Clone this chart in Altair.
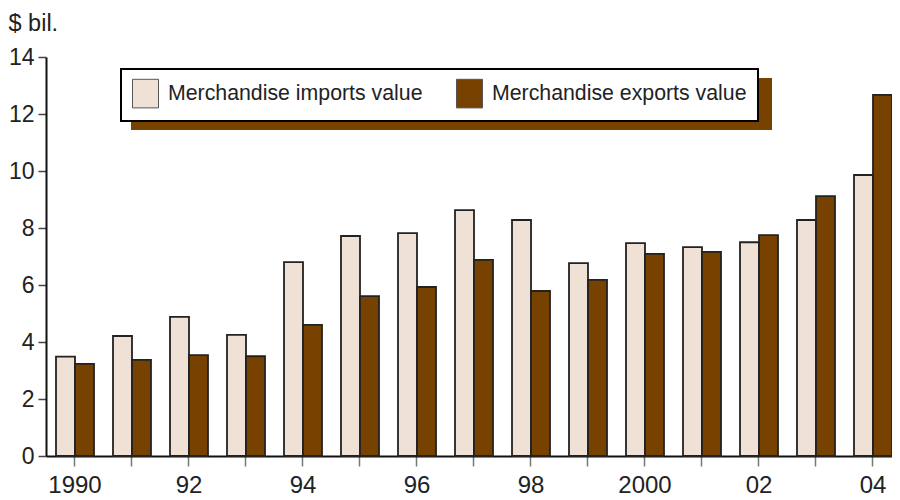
import altair as alt
import pandas as pd

years = list(range(1990, 2005))
imports = [3.49, 4.21, 4.88, 4.25, 6.80, 7.72, 7.82, 8.63, 8.28, 6.77, 7.47, 7.33, 7.50, 8.28, 9.86]
exports = [3.23, 3.37, 3.54, 3.50, 4.60, 5.61, 5.93, 6.88, 5.79, 6.18, 7.09, 7.16, 7.75, 9.12, 12.67]
series = ["Merchandise imports value", "Merchandise exports value"]
colors = ["#EFE1D5", "#774200"]
y_ticks = [0, 2, 4, 6, 8, 10, 12, 14]

rows = []
for i, yr in enumerate(years):
    rows.append({"year": yr, "series": series[0], "value": imports[i]})
    rows.append({"year": yr, "series": series[1], "value": exports[i]})
df = pd.DataFrame(rows)

FONT = "Liberation Sans"

shadow = alt.Chart(pd.DataFrame({"k": [0]})).mark_rect(color="#774200").encode(
    x=alt.value(85), x2=alt.value(726), y=alt.value(21), y2=alt.value(73)
)

label_expr = ("datum.value % 2 == 1 ? '' : ((datum.value == 1990 || datum.value == 2000) ? "
              "toString(datum.value) : substring(toString(datum.value), 2))")

bars = alt.Chart(df).mark_bar(stroke="#222222", strokeWidth=1.8).encode(
    x=alt.X("year:O",
            scale=alt.Scale(paddingInner=1/3, paddingOuter=0.0877, align=1),
            axis=alt.Axis(title=None, labelExpr=label_expr, labelAngle=0,
                          labelFontSize=24, labelFont=FONT, labelColor="#222",
                          labelPadding=7, labelOverlap=False,
                          tickSize=10, tickColor="#777777", tickWidth=1.5,
                          domainColor="#111111", domainWidth=2)),
    xOffset=alt.XOffset("series:N", sort=series),
    y=alt.Y("value:Q",
            scale=alt.Scale(domain=[0, 14], nice=False),
            axis=alt.Axis(values=y_ticks, title="$ bil.", titleAngle=0,
                          titleAlign="left", titleBaseline="alphabetic",
                          titleX=-38, titleY=-27, titleFontSize=23.5,
                          titleFontWeight="normal", titleFont=FONT, titleColor="#222",
                          labelFontSize=23, labelFont=FONT, labelColor="#222",
                          labelPadding=4, tickSize=8, tickColor="#444444",
                          tickWidth=1.5, domainColor="#111111", domainWidth=2,
                          grid=False)),
    fill=alt.Fill("series:N", sort=series,
                  scale=alt.Scale(domain=series, range=colors),
                  legend=alt.Legend(title=None, orient="none", legendX=75, legendY=12,
                                    direction="horizontal", columns=2,
                                    fillColor="white", strokeColor="black",
                                    padding=11,
                                    labelFontSize=21.3, labelFont=FONT, labelColor="#222",
                                    labelLimit=500, labelOffset=9, columnPadding=31,
                                    symbolType="M-1,-1.1H1V1.1H-1Z", symbolSize=676,
                                    symbolStrokeColor="#555555", symbolStrokeWidth=1,
                                    symbolOpacity=1)),
)

chart = alt.layer(shadow, bars).properties(
    width=846, height=399,
    background="white",
    autosize=alt.AutoSizeParams(type="none"),
    padding={"left": 38, "top": 49, "right": 0, "bottom": 42},
).configure_view(strokeWidth=0, strokeOpacity=0).configure_legend(strokeWidth=2)

chart.save("out.html", embed_options={"renderer": "svg", "actions": False})
